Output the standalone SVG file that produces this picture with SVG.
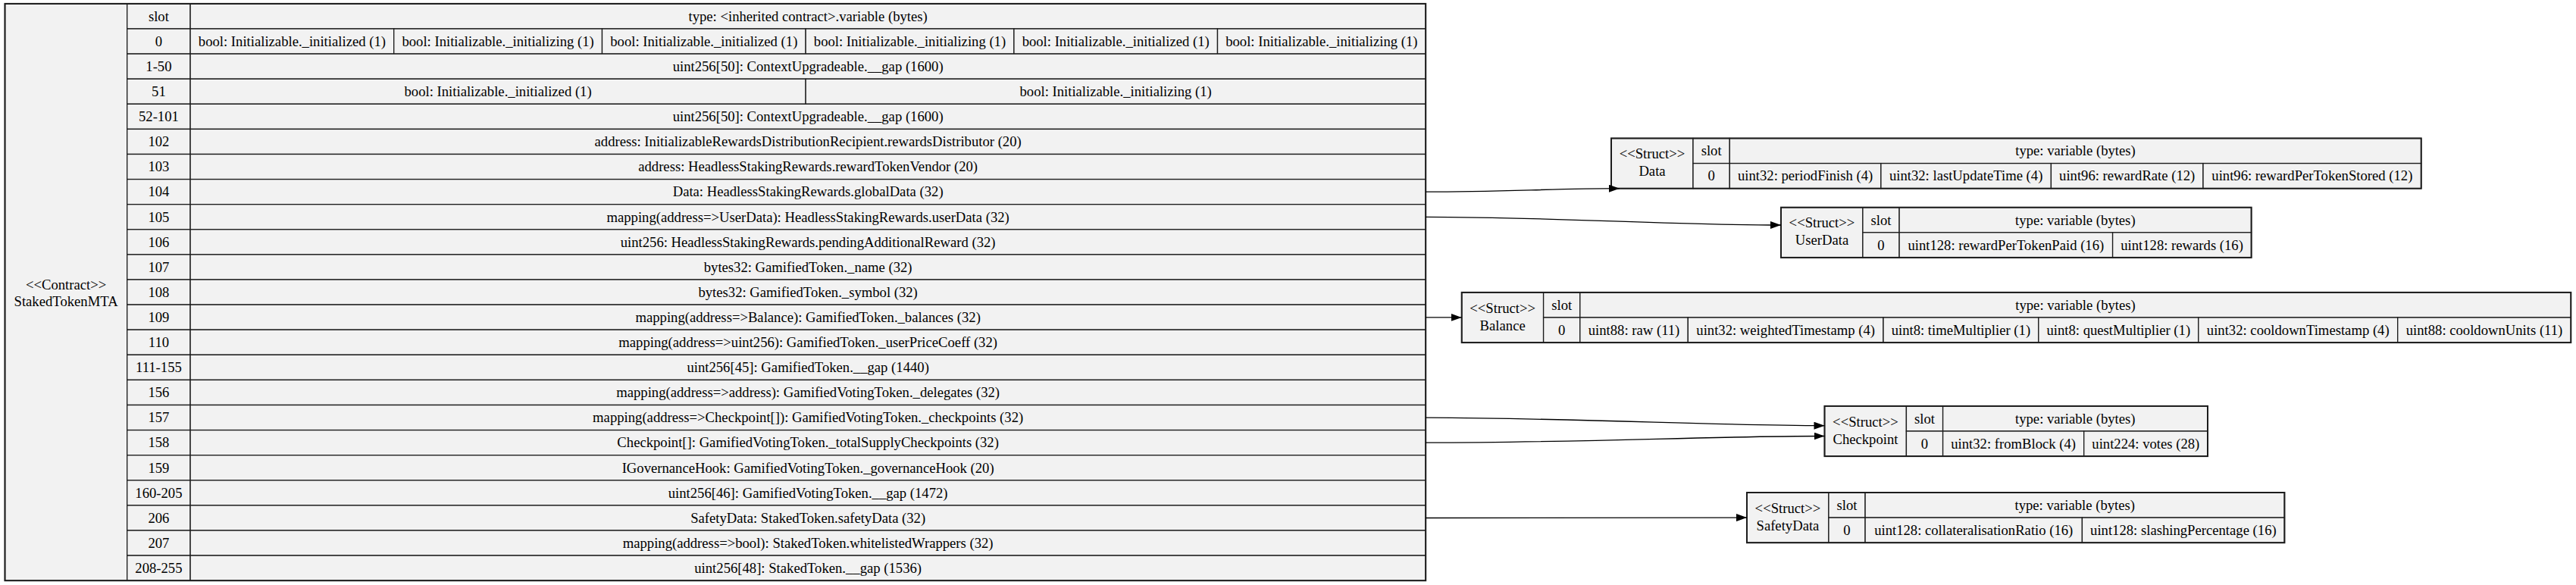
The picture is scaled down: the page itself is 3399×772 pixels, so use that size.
<svg xmlns="http://www.w3.org/2000/svg" width="3399" height="772" viewBox="0 0 3399 772">
<style>
.cell{fill:#f2f2f2;stroke:#1c1c1c;stroke-width:1.33}
.outer{fill:none;stroke:#1c1c1c;stroke-width:2}
text{font-family:"Liberation Serif","Times New Roman",serif;font-size:18.67px;fill:#000;text-anchor:middle}
.edge{fill:none;stroke:#000;stroke-width:1.33}
</style>
<defs>
<marker id="ah" markerUnits="userSpaceOnUse" markerWidth="14" markerHeight="10" viewBox="0 0 14 10" refX="14" refY="5" orient="auto">
<path d="M0,0 L14,5 L0,10 z" fill="#000"/>
</marker>
</defs>
<rect width="3399" height="772" fill="#fff"/>

<g id="StakedTokenMTA">
<rect class="cell" x="6.5" y="4.9" width="161.2" height="761.3"/>
<text x="87.1" y="381.5">&lt;&lt;Contract&gt;&gt;</text>
<text x="87.1" y="404">StakedTokenMTA</text>
<rect class="cell" x="167.7" y="4.9" width="83.4" height="33.1"/>
<text x="209.4" y="27.75">slot</text>
<rect class="cell" x="251.1" y="4.9" width="1630.1" height="33.1"/>
<text x="1066.15" y="27.75">type: &lt;inherited contract&gt;.variable (bytes)</text>

<rect class="cell" x="167.7" y="38" width="83.4" height="33.1"/><text x="209.4" y="60.85">0</text>
<rect class="cell" x="251.1" y="38" width="268.6" height="33.1"/><text x="385.4" y="60.85">bool: Initializable._initialized (1)</text>
<rect class="cell" x="519.7" y="38" width="274.8" height="33.1"/><text x="657.1" y="60.85">bool: Initializable._initializing (1)</text>
<rect class="cell" x="794.5" y="38" width="268.6" height="33.1"/><text x="928.8" y="60.85">bool: Initializable._initialized (1)</text>
<rect class="cell" x="1063.1" y="38" width="274.8" height="33.1"/><text x="1200.5" y="60.85">bool: Initializable._initializing (1)</text>
<rect class="cell" x="1337.9" y="38" width="268.6" height="33.1"/><text x="1472.2" y="60.85">bool: Initializable._initialized (1)</text>
<rect class="cell" x="1606.5" y="38" width="274.7" height="33.1"/><text x="1743.85" y="60.85">bool: Initializable._initializing (1)</text>

<rect class="cell" x="167.7" y="71.1" width="83.4" height="33.1"/><text x="209.4" y="93.95">1-50</text>
<rect class="cell" x="251.1" y="71.1" width="1630.1" height="33.1"/><text x="1066.15" y="93.95">uint256[50]: ContextUpgradeable.__gap (1600)</text>

<rect class="cell" x="167.7" y="104.2" width="83.4" height="33.1"/><text x="209.4" y="127.05">51</text>
<rect class="cell" x="251.1" y="104.2" width="812" height="33.1"/><text x="657.1" y="127.05">bool: Initializable._initialized (1)</text>
<rect class="cell" x="1063.1" y="104.2" width="818.1" height="33.1"/><text x="1472.15" y="127.05">bool: Initializable._initializing (1)</text>

<rect class="cell" x="167.7" y="137.3" width="83.4" height="33.1"/><text x="209.4" y="160.15">52-101</text>
<rect class="cell" x="251.1" y="137.3" width="1630.1" height="33.1"/><text x="1066.15" y="160.15">uint256[50]: ContextUpgradeable.__gap (1600)</text>

<rect class="cell" x="167.7" y="170.4" width="83.4" height="33.1"/><text x="209.4" y="193.25">102</text>
<rect class="cell" x="251.1" y="170.4" width="1630.1" height="33.1"/><text x="1066.15" y="193.25">address: InitializableRewardsDistributionRecipient.rewardsDistributor (20)</text>

<rect class="cell" x="167.7" y="203.5" width="83.4" height="33.1"/><text x="209.4" y="226.35">103</text>
<rect class="cell" x="251.1" y="203.5" width="1630.1" height="33.1"/><text x="1066.15" y="226.35">address: HeadlessStakingRewards.rewardTokenVendor (20)</text>

<rect class="cell" x="167.7" y="236.6" width="83.4" height="33.1"/><text x="209.4" y="259.45">104</text>
<rect class="cell" x="251.1" y="236.6" width="1630.1" height="33.1"/><text x="1066.15" y="259.45">Data: HeadlessStakingRewards.globalData (32)</text>

<rect class="cell" x="167.7" y="269.7" width="83.4" height="33.1"/><text x="209.4" y="292.55">105</text>
<rect class="cell" x="251.1" y="269.7" width="1630.1" height="33.1"/><text x="1066.15" y="292.55">mapping(address=&gt;UserData): HeadlessStakingRewards.userData (32)</text>

<rect class="cell" x="167.7" y="302.8" width="83.4" height="33.1"/><text x="209.4" y="325.65">106</text>
<rect class="cell" x="251.1" y="302.8" width="1630.1" height="33.1"/><text x="1066.15" y="325.65">uint256: HeadlessStakingRewards.pendingAdditionalReward (32)</text>

<rect class="cell" x="167.7" y="335.9" width="83.4" height="33.1"/><text x="209.4" y="358.75">107</text>
<rect class="cell" x="251.1" y="335.9" width="1630.1" height="33.1"/><text x="1066.15" y="358.75">bytes32: GamifiedToken._name (32)</text>

<rect class="cell" x="167.7" y="369" width="83.4" height="33.1"/><text x="209.4" y="391.85">108</text>
<rect class="cell" x="251.1" y="369" width="1630.1" height="33.1"/><text x="1066.15" y="391.85">bytes32: GamifiedToken._symbol (32)</text>

<rect class="cell" x="167.7" y="402.1" width="83.4" height="33.1"/><text x="209.4" y="424.95">109</text>
<rect class="cell" x="251.1" y="402.1" width="1630.1" height="33.1"/><text x="1066.15" y="424.95">mapping(address=&gt;Balance): GamifiedToken._balances (32)</text>

<rect class="cell" x="167.7" y="435.2" width="83.4" height="33.1"/><text x="209.4" y="458.05">110</text>
<rect class="cell" x="251.1" y="435.2" width="1630.1" height="33.1"/><text x="1066.15" y="458.05">mapping(address=&gt;uint256): GamifiedToken._userPriceCoeff (32)</text>

<rect class="cell" x="167.7" y="468.3" width="83.4" height="33.1"/><text x="209.4" y="491.15">111-155</text>
<rect class="cell" x="251.1" y="468.3" width="1630.1" height="33.1"/><text x="1066.15" y="491.15">uint256[45]: GamifiedToken.__gap (1440)</text>

<rect class="cell" x="167.7" y="501.4" width="83.4" height="33.1"/><text x="209.4" y="524.25">156</text>
<rect class="cell" x="251.1" y="501.4" width="1630.1" height="33.1"/><text x="1066.15" y="524.25">mapping(address=&gt;address): GamifiedVotingToken._delegates (32)</text>

<rect class="cell" x="167.7" y="534.5" width="83.4" height="33.1"/><text x="209.4" y="557.35">157</text>
<rect class="cell" x="251.1" y="534.5" width="1630.1" height="33.1"/><text x="1066.15" y="557.35">mapping(address=&gt;Checkpoint[]): GamifiedVotingToken._checkpoints (32)</text>

<rect class="cell" x="167.7" y="567.6" width="83.4" height="33.1"/><text x="209.4" y="590.45">158</text>
<rect class="cell" x="251.1" y="567.6" width="1630.1" height="33.1"/><text x="1066.15" y="590.45">Checkpoint[]: GamifiedVotingToken._totalSupplyCheckpoints (32)</text>

<rect class="cell" x="167.7" y="600.7" width="83.4" height="33.1"/><text x="209.4" y="623.55">159</text>
<rect class="cell" x="251.1" y="600.7" width="1630.1" height="33.1"/><text x="1066.15" y="623.55">IGovernanceHook: GamifiedVotingToken._governanceHook (20)</text>

<rect class="cell" x="167.7" y="633.8" width="83.4" height="33.1"/><text x="209.4" y="656.65">160-205</text>
<rect class="cell" x="251.1" y="633.8" width="1630.1" height="33.1"/><text x="1066.15" y="656.65">uint256[46]: GamifiedVotingToken.__gap (1472)</text>

<rect class="cell" x="167.7" y="666.9" width="83.4" height="33.1"/><text x="209.4" y="689.75">206</text>
<rect class="cell" x="251.1" y="666.9" width="1630.1" height="33.1"/><text x="1066.15" y="689.75">SafetyData: StakedToken.safetyData (32)</text>

<rect class="cell" x="167.7" y="700" width="83.4" height="33.1"/><text x="209.4" y="722.85">207</text>
<rect class="cell" x="251.1" y="700" width="1630.1" height="33.1"/><text x="1066.15" y="722.85">mapping(address=&gt;bool): StakedToken.whitelistedWrappers (32)</text>

<rect class="cell" x="167.7" y="733.1" width="83.4" height="33.1"/><text x="209.4" y="755.95">208-255</text>
<rect class="cell" x="251.1" y="733.1" width="1630.1" height="33.1"/><text x="1066.15" y="755.95">uint256[48]: StakedToken.__gap (1536)</text>
<rect class="outer" x="6.5" y="4.9" width="1874.7" height="761.3"/>
</g>

<g id="Data">
<rect class="cell" x="2126" y="182.5" width="108" height="66.2"/>
<text x="2180" y="209.1">&lt;&lt;Struct&gt;&gt;</text>
<text x="2180" y="232.1">Data</text>
<rect class="cell" x="2234" y="182.5" width="48.3" height="33.1"/><text x="2258.15" y="205.35">slot</text>
<rect class="cell" x="2282.3" y="182.5" width="912.4" height="33.1"/><text x="2738.5" y="205.35">type: variable (bytes)</text>
<rect class="cell" x="2234" y="215.6" width="48.3" height="33.1"/><text x="2258.15" y="238.45">0</text>
<rect class="cell" x="2282.3" y="215.6" width="199.6" height="33.1"/><text x="2382.1" y="238.45">uint32: periodFinish (4)</text>
<rect class="cell" x="2481.9" y="215.6" width="224.5" height="33.1"/><text x="2594.15" y="238.45">uint32: lastUpdateTime (4)</text>
<rect class="cell" x="2706.4" y="215.6" width="200.6" height="33.1"/><text x="2806.7" y="238.45">uint96: rewardRate (12)</text>
<rect class="cell" x="2907" y="215.6" width="287.7" height="33.1"/><text x="3050.85" y="238.45">uint96: rewardPerTokenStored (12)</text>
<rect class="outer" x="2126" y="182.5" width="1068.7" height="66.2"/>
</g>

<g id="UserData">
<rect class="cell" x="2350" y="273.7" width="107.9" height="66.2"/>
<text x="2403.95" y="300.3">&lt;&lt;Struct&gt;&gt;</text>
<text x="2403.95" y="323.3">UserData</text>
<rect class="cell" x="2457.9" y="273.7" width="48.2" height="33.1"/><text x="2482" y="296.55">slot</text>
<rect class="cell" x="2506.1" y="273.7" width="464.5" height="33.1"/><text x="2738.35" y="296.55">type: variable (bytes)</text>
<rect class="cell" x="2457.9" y="306.8" width="48.2" height="33.1"/><text x="2482" y="329.65">0</text>
<rect class="cell" x="2506.1" y="306.8" width="281.5" height="33.1"/><text x="2646.85" y="329.65">uint128: rewardPerTokenPaid (16)</text>
<rect class="cell" x="2787.6" y="306.8" width="183" height="33.1"/><text x="2879.1" y="329.65">uint128: rewards (16)</text>
<rect class="outer" x="2350" y="273.7" width="620.6" height="66.2"/>
</g>

<g id="Balance">
<rect class="cell" x="1928.7" y="385.9" width="107.9" height="66.2"/>
<text x="1982.65" y="412.5">&lt;&lt;Struct&gt;&gt;</text>
<text x="1982.65" y="435.5">Balance</text>
<rect class="cell" x="2036.6" y="385.9" width="48.2" height="33.1"/><text x="2060.7" y="408.75">slot</text>
<rect class="cell" x="2084.8" y="385.9" width="1307.5" height="33.1"/><text x="2738.55" y="408.75">type: variable (bytes)</text>
<rect class="cell" x="2036.6" y="419" width="48.2" height="33.1"/><text x="2060.7" y="441.85">0</text>
<rect class="cell" x="2084.8" y="419" width="142.5" height="33.1"/><text x="2156.05" y="441.85">uint88: raw (11)</text>
<rect class="cell" x="2227.3" y="419" width="257.7" height="33.1"/><text x="2356.15" y="441.85">uint32: weightedTimestamp (4)</text>
<rect class="cell" x="2485" y="419" width="204.8" height="33.1"/><text x="2587.4" y="441.85">uint8: timeMultiplier (1)</text>
<rect class="cell" x="2689.8" y="419" width="211" height="33.1"/><text x="2795.3" y="441.85">uint8: questMultiplier (1)</text>
<rect class="cell" x="2900.8" y="419" width="262.9" height="33.1"/><text x="3032.25" y="441.85">uint32: cooldownTimestamp (4)</text>
<rect class="cell" x="3163.7" y="419" width="228.6" height="33.1"/><text x="3278" y="441.85">uint88: cooldownUnits (11)</text>
<rect class="outer" x="1928.7" y="385.9" width="1463.6" height="66.2"/>
</g>

<g id="Checkpoint">
<rect class="cell" x="2407.5" y="535.9" width="107.9" height="66.2"/>
<text x="2461.45" y="562.5">&lt;&lt;Struct&gt;&gt;</text>
<text x="2461.45" y="585.5">Checkpoint</text>
<rect class="cell" x="2515.4" y="535.9" width="48.2" height="33.1"/><text x="2539.5" y="558.75">slot</text>
<rect class="cell" x="2563.6" y="535.9" width="349.4" height="33.1"/><text x="2738.3" y="558.75">type: variable (bytes)</text>
<rect class="cell" x="2515.4" y="569" width="48.2" height="33.1"/><text x="2539.5" y="591.85">0</text>
<rect class="cell" x="2563.6" y="569" width="186.1" height="33.1"/><text x="2656.65" y="591.85">uint32: fromBlock (4)</text>
<rect class="cell" x="2749.7" y="569" width="163.3" height="33.1"/><text x="2831.35" y="591.85">uint224: votes (28)</text>
<rect class="outer" x="2407.5" y="535.9" width="505.5" height="66.2"/>
</g>

<g id="SafetyData">
<rect class="cell" x="2305" y="650" width="107.9" height="66.2"/>
<text x="2358.95" y="676.6">&lt;&lt;Struct&gt;&gt;</text>
<text x="2358.95" y="699.6">SafetyData</text>
<rect class="cell" x="2412.9" y="650" width="48.2" height="33.1"/><text x="2437" y="672.85">slot</text>
<rect class="cell" x="2461.1" y="650" width="553.3" height="33.1"/><text x="2737.75" y="672.85">type: variable (bytes)</text>
<rect class="cell" x="2412.9" y="683.1" width="48.2" height="33.1"/><text x="2437" y="705.95">0</text>
<rect class="cell" x="2461.1" y="683.1" width="286.3" height="33.1"/><text x="2604.25" y="705.95">uint128: collateralisationRatio (16)</text>
<rect class="cell" x="2747.4" y="683.1" width="267" height="33.1"/><text x="2880.9" y="705.95">uint128: slashingPercentage (16)</text>
<rect class="outer" x="2305" y="650" width="709.4" height="66.2"/>
</g>

<g id="connectors">
<path class="edge" marker-end="url(#ah)" d="M1881.2,253.2 C1980,253.2 2050,248.9 2137,248.7"/>
<path class="edge" marker-end="url(#ah)" d="M1881.2,286.3 C2050,286.3 2200,297 2350,297"/>
<path class="edge" marker-end="url(#ah)" d="M1881.2,418.9 L1928.7,418.9"/>
<path class="edge" marker-end="url(#ah)" d="M1881.2,551.2 C2100,552 2250,561.5 2407.5,561.7"/>
<path class="edge" marker-end="url(#ah)" d="M1881.2,584.2 C2100,584 2250,575.5 2407.5,575.5"/>
<path class="edge" marker-end="url(#ah)" d="M1881.2,683.5 L2305,683.1"/>
</g>
</svg>
